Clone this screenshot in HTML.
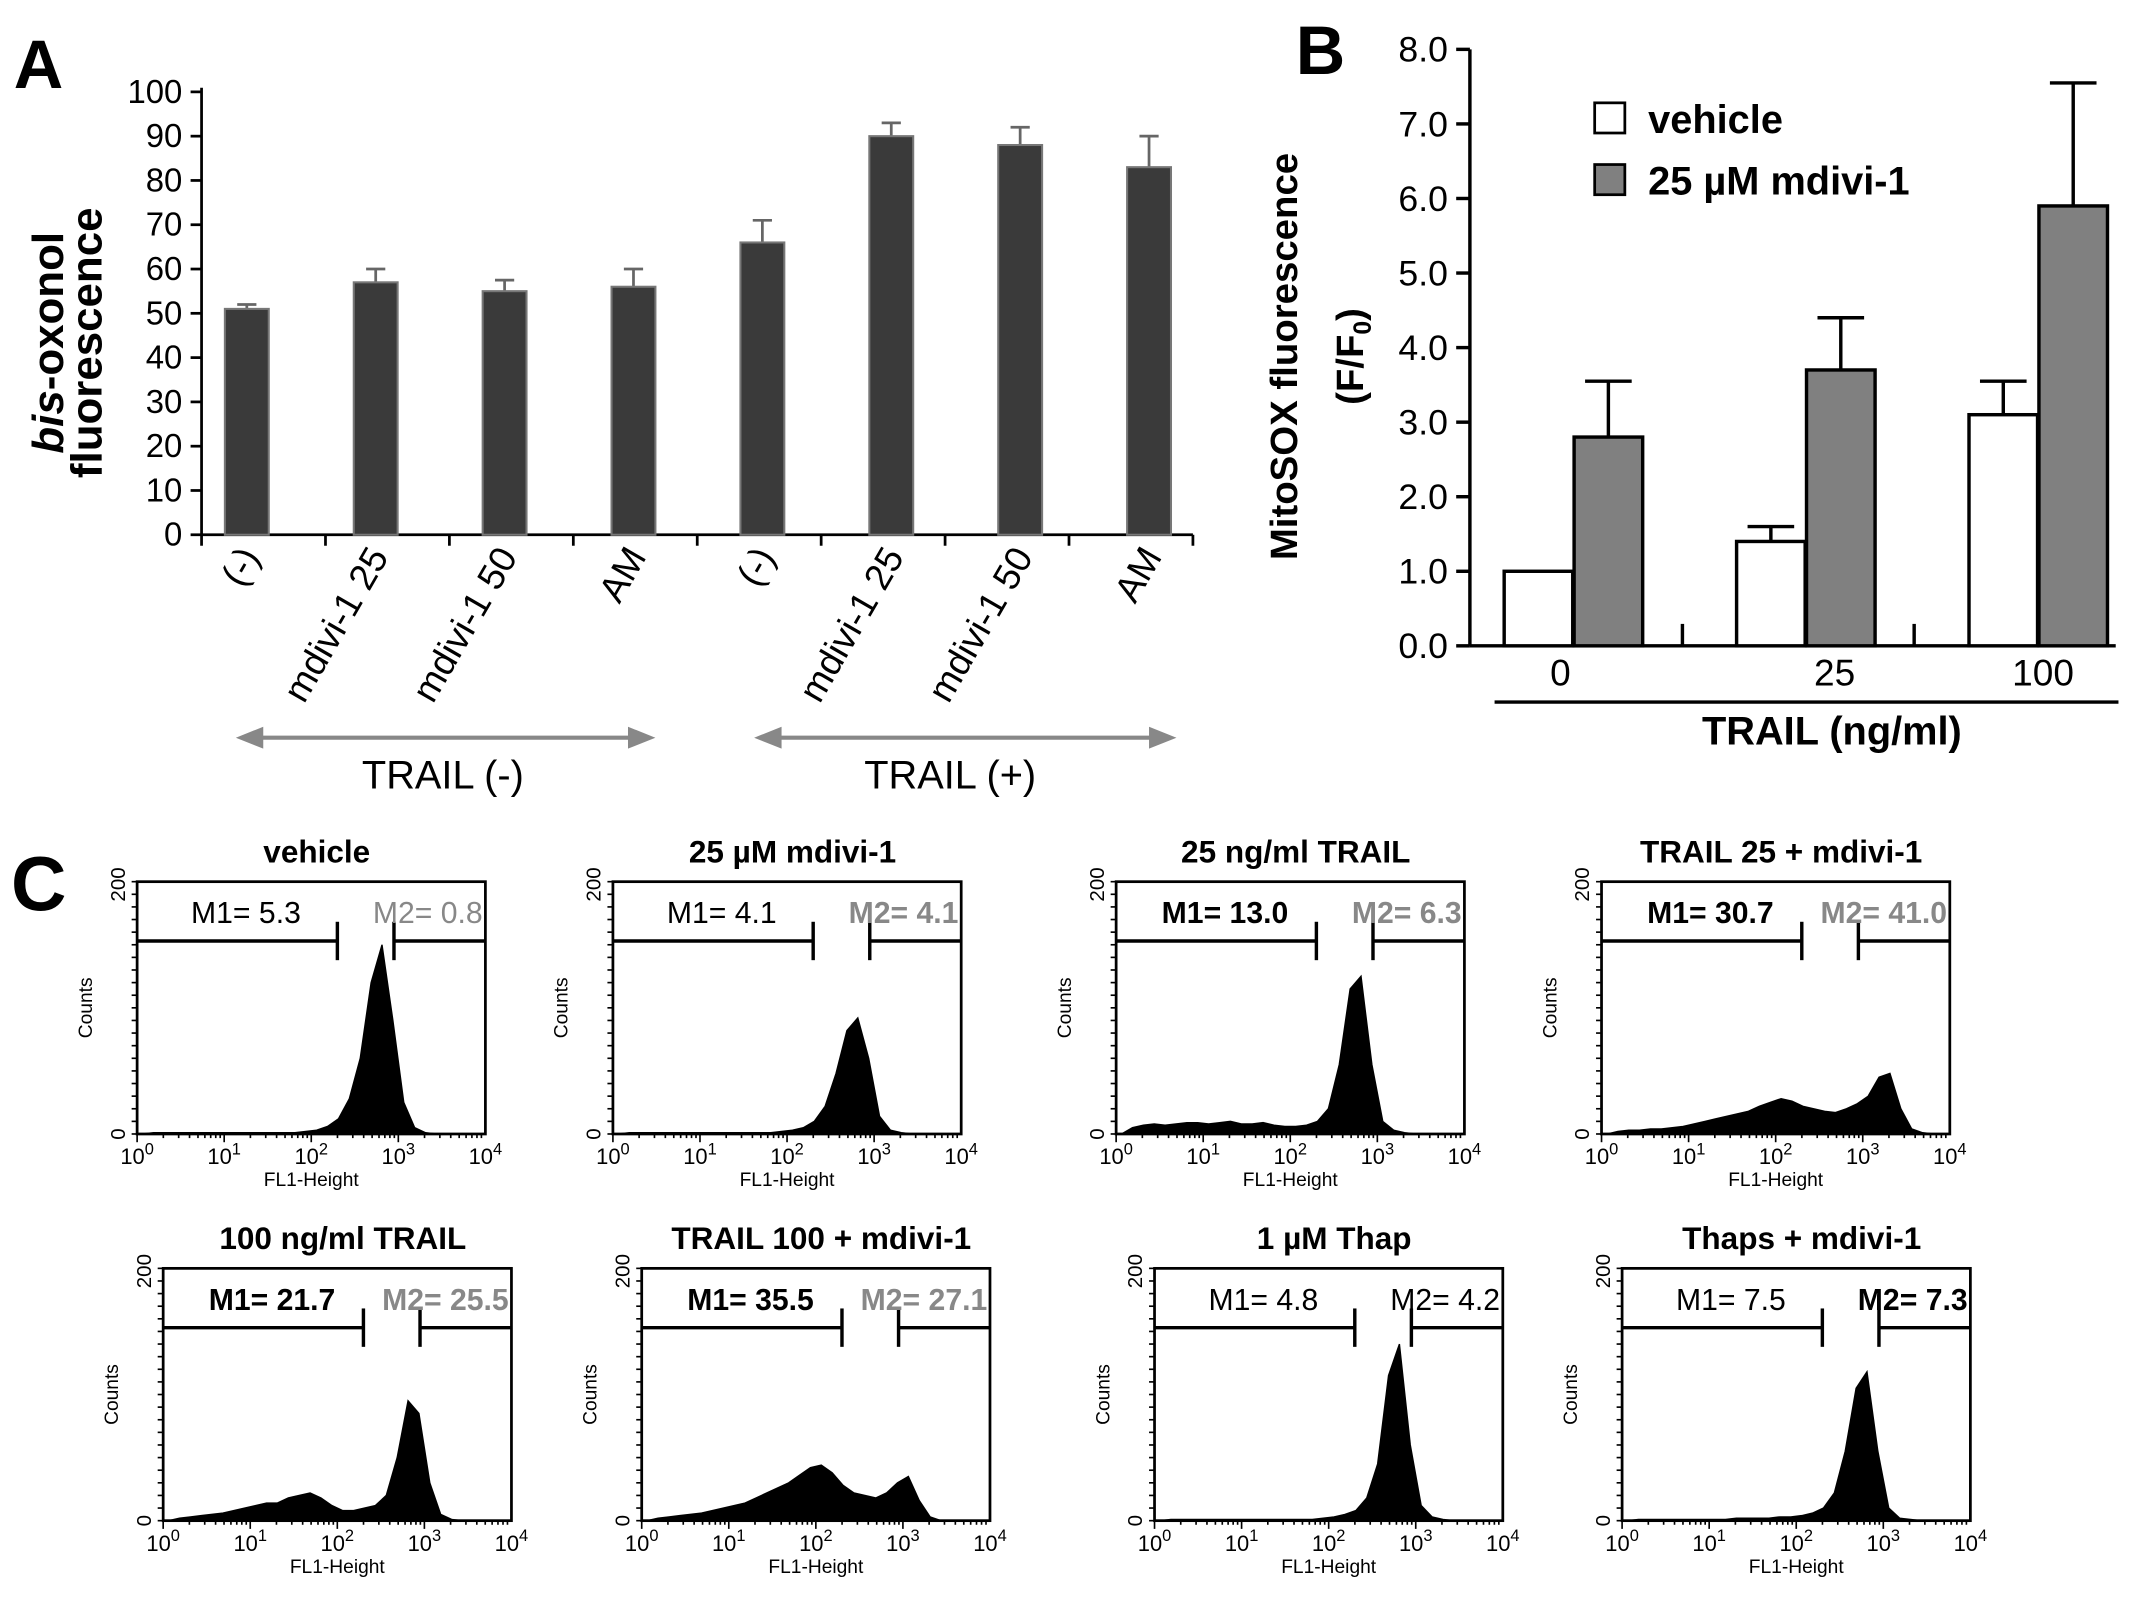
<!DOCTYPE html>
<html><head><meta charset="utf-8"><style>
html,body{margin:0;padding:0;background:#fff}
svg{display:block}
text{font-family:"Liberation Sans",Arial,sans-serif}
</style></head><body>
<svg id="fig" xmlns="http://www.w3.org/2000/svg" width="2150" height="1598" viewBox="0 0 1568 1165.4" preserveAspectRatio="none">
<g id="pa"></g>
<g id="pb"></g>
<g id="pc"></g>
</svg>
<script>
// Panel A data
const aCats=["(-)","mdivi-1 25","mdivi-1 50","AM","(-)","mdivi-1 25","mdivi-1 50","AM"];
const aVals=[51,57,55,56,66,90,88,83];
const aErr=[1,3,2.5,4,5,3,4,7];
const aTicks=[0,10,20,30,40,50,60,70,80,90,100];
// Panel B data
const bGroups=["0","25","100"];
const bVehicle=[1.0,1.4,3.1];
const bVehErr=[0,0.2,0.45];
const bMdivi=[2.8,3.7,5.9];
const bMdiviErr=[0.75,0.7,1.65];
const bTicks=[0,1,2,3,4,5,6,7,8];
// Panel C data (counts per log bin, 32 bins from 10^0 to 10^4)
const cTitles=["vehicle","25 µM mdivi-1","25 ng/ml TRAIL","TRAIL 25  + mdivi-1","100 ng/ml TRAIL","TRAIL 100  + mdivi-1","1 µM Thap","Thaps + mdivi-1"];
const cM1=["M1= 5.3","M1= 4.1","M1= 13.0","M1= 30.7","M1= 21.7","M1= 35.5","M1= 4.8","M1= 7.5"];
const cM2=["M2= 0.8","M2= 4.1","M2= 6.3","M2= 41.0","M2= 25.5","M2= 27.1","M2= 4.2","M2= 7.3"];
const cBold1=[0,0,1,1,1,1,0,0];
const cBold2=[0,1,1,1,1,1,0,1];
const cHist=[
[0,1,1,1,1,1,1,1,1,1,1,1,1,1,1,2,3,6,12,28,60,120,150,90,25,5,1,0,0,0,0,0],
[0,1,1,1,1,1,1,1,1,1,1,1,1,1,1,2,3,5,10,22,48,82,92,60,14,3,1,0,0,0,0,0],
[0,5,7,8,7,8,9,9,8,9,10,8,8,9,7,6,6,7,10,20,55,115,125,55,10,3,1,0,0,0,0,0],
[0,2,3,3,4,4,5,6,8,10,12,14,16,18,22,25,28,26,22,20,18,17,20,24,30,45,48,20,4,1,0,0],
[0,2,3,4,5,6,8,10,12,14,14,18,20,22,18,12,8,8,10,12,20,50,95,85,30,5,1,0,0,0,0,0],
[0,2,3,4,5,6,8,10,12,14,18,22,26,30,36,42,44,38,28,22,20,18,22,30,35,16,3,0,0,0,0,0],
[0,1,1,1,1,1,1,1,1,1,1,1,1,1,1,2,3,5,8,18,45,115,140,60,12,3,1,0,0,0,0,0],
[0,1,1,1,1,1,1,1,1,1,2,2,2,2,3,3,4,6,10,22,55,105,118,55,10,2,1,0,0,0,0,0]
];
const cBoxes=[[100,643],[447,643],[814,643],[1168,643],[119,925],[468,925],[842,925],[1183,925]];

const NS="http://www.w3.org/2000/svg";
function el(p,tag,at,txt){const e=document.createElementNS(NS,tag);for(const k in at)e.setAttribute(k,at[k]);if(txt!==undefined)e.textContent=txt;p.appendChild(e);return e;}

// ---------- Panel A ----------
(function(){
const g=document.getElementById('pa');
const x0=147,x1=870,yb=390,yt=67;
const y=v=>yb-(v/100)*(yb-yt);
const xc=i=>180+i*94;
let t=el(g,'text',{x:10,y:64,'font-size':50,'font-weight':'bold'},'A');

let yl=el(g,'text',{transform:'translate(46,250) rotate(-90)','text-anchor':'middle','font-size':32,'font-weight':'bold'});

el(yl,'tspan',{'font-style':'italic'},'bis');el(yl,'tspan',{},'-oxonol');
let yl2=el(g,'text',{transform:'translate(74,250) rotate(-90)','text-anchor':'middle','font-size':32,'font-weight':'bold'},'fluorescence');

el(g,'line',{x1:x0,y1:yt-3,x2:x0,y2:yb,stroke:'#000','stroke-width':2});
el(g,'line',{x1:x0,y1:yb,x2:x1,y2:yb,stroke:'#000','stroke-width':2});
aTicks.forEach(v=>{el(g,'line',{x1:x0-8,y1:y(v),x2:x0,y2:y(v),stroke:'#000','stroke-width':2});
 const tt=el(g,'text',{x:x0-14,y:y(v)+8,'text-anchor':'end','font-size':24},v);
 });
for(let i=0;i<=8;i++){const xx=x0+i*(x1-x0)/8;el(g,'line',{x1:xx,y1:yb,x2:xx,y2:yb+8,stroke:'#000','stroke-width':2});}
aVals.forEach((v,i)=>{const cx=xc(i);
 el(g,'line',{x1:cx,y1:y(v),x2:cx,y2:y(v+aErr[i]),stroke:'#666','stroke-width':2});
 el(g,'line',{x1:cx-7,y1:y(v+aErr[i]),x2:cx+7,y2:y(v+aErr[i]),stroke:'#666','stroke-width':2});
 const r=el(g,'rect',{x:cx-16,y:y(v),width:32,height:yb-y(v),fill:'#3a3a3a',stroke:'#777','stroke-width':1.5});
 
 const tl=el(g,'text',{transform:`translate(${cx+10},${yb+16}) rotate(-60)`,'text-anchor':'end','font-size':27},aCats[i]);
 });
[[172,478,323,'TRAIL (-)'],[550,858,693,'TRAIL (+)']].forEach((a,k)=>{
 el(g,'line',{x1:a[0]+12,y1:538,x2:a[1]-12,y2:538,stroke:'#888','stroke-width':3});
 el(g,'polygon',{points:`${a[0]},538 ${a[0]+20},530 ${a[0]+20},546`,fill:'#888'});
 el(g,'polygon',{points:`${a[1]},538 ${a[1]-20},530 ${a[1]-20},546`,fill:'#888'});
 const tl=el(g,'text',{x:a[2],y:575,'text-anchor':'middle','font-size':29},a[3]);
 });
})();

// ---------- Panel B ----------
(function(){
const g=document.getElementById('pb');
const x0=1072,x1=1543,yb=471,yt=36;
const y=v=>yb-(v/8)*(yb-yt);
let t=el(g,'text',{x:945,y:54,'font-size':50,'font-weight':'bold'},'B');

let a=el(g,'text',{transform:'translate(946,260) rotate(-90)','text-anchor':'middle','font-size':28,'font-weight':'bold'},'MitoSOX  fluorescence');

let b=el(g,'text',{transform:'translate(994,260) rotate(-90)','text-anchor':'middle','font-size':28,'font-weight':'bold'});

el(b,'tspan',{},'(F/F');el(b,'tspan',{'font-size':18,dy:6},'0');el(b,'tspan',{dy:-6},')');
el(g,'line',{x1:x0,y1:yt,x2:x0,y2:yb,stroke:'#000','stroke-width':2.5});
el(g,'line',{x1:x0,y1:yb,x2:x1,y2:yb,stroke:'#000','stroke-width':2.5});
bTicks.forEach(v=>{el(g,'line',{x1:x0-10,y1:y(v),x2:x0,y2:y(v),stroke:'#000','stroke-width':2.5});
 const tt=el(g,'text',{x:x0-16,y:y(v)+9,'text-anchor':'end','font-size':26},v.toFixed(1));
 });
const bw=50;
[1227,1396].forEach(xx=>el(g,'line',{x1:xx,y1:yb,x2:xx,y2:yb-16,stroke:'#000','stroke-width':2.5}));
const labX=[1138,1338,1490];
bGroups.forEach((lab,i)=>{const left=1097+i*169.5;
 [[bVehicle,bVehErr,'#fff',0],[bMdivi,bMdiviErr,'#808080',bw+1]].forEach((s,j)=>{
  const v=s[0][i],e=s[1][i],bx=left+s[3];
  if(e>0){el(g,'line',{x1:bx+bw/2,y1:y(v),x2:bx+bw/2,y2:y(v+e),stroke:'#000','stroke-width':2.5});
  el(g,'line',{x1:bx+bw/2-17,y1:y(v+e),x2:bx+bw/2+17,y2:y(v+e),stroke:'#000','stroke-width':2.5});}
  const r=el(g,'rect',{x:bx,y:y(v),width:bw,height:yb-y(v),fill:s[2],stroke:'#000','stroke-width':2.5});
  });
 const tl=el(g,'text',{x:labX[i],y:500,'text-anchor':'middle','font-size':27},lab);
 });
el(g,'line',{x1:1090,y1:512,x2:1545,y2:512,stroke:'#000','stroke-width':2.5});
let xt=el(g,'text',{x:1336,y:543,'text-anchor':'middle','font-size':29,'font-weight':'bold'},'TRAIL (ng/ml)');

const l1=el(g,'rect',{x:1163,y:75,width:22,height:22,fill:'#fff',stroke:'#000','stroke-width':2});

const l2=el(g,'rect',{x:1163,y:120,width:22,height:22,fill:'#808080',stroke:'#000','stroke-width':2});

let lt1=el(g,'text',{x:1202,y:97,'font-size':29,'font-weight':'bold'},'vehicle');

let lt2=el(g,'text',{x:1202,y:142,'font-size':29,'font-weight':'bold'},'25 µM mdivi-1');

})();

// ---------- Panel C ----------
(function(){
const g=document.getElementById('pc');
let t=el(g,'text',{x:8,y:664,'font-size':56,'font-weight':'bold'},'C');

const W=254,H=184;
cHist.forEach((hist,k)=>{
 const [bx,by]=cBoxes[k];
 const gg=el(g,'g',{});
 const X=l=>bx+l/4*W, Y=c=>by+H-c/200*H;
 let d=`M${X(0)},${Y(0)}`;
 hist.forEach((c,i)=>{d+=` L${X((i+0.5)*0.125)},${Y(c)}`;});
 d+=` L${X(4)},${Y(0)} Z`;
 const p=el(gg,'path',{d:d,fill:'#000',stroke:'#000','stroke-width':1});
 
 el(gg,'rect',{x:bx,y:by,width:W,height:H,fill:'none',stroke:'#000','stroke-width':2});
 for(let i=0;i<=20;i++){el(gg,'line',{x1:bx-4,y1:by+i*H/20,x2:bx,y2:by+i*H/20,stroke:'#000','stroke-width':1.2});}
 for(let dd=0;dd<4;dd++)for(let m=1;m<=9;m++){const xx=X(dd+Math.log10(m));el(gg,'line',{x1:xx,y1:by+H,x2:xx,y2:by+H+(m==1?6:3),stroke:'#000','stroke-width':1.2});}
 for(let dd=0;dd<=4;dd++){const tx=el(gg,'text',{x:X(dd),y:by+H+22,'text-anchor':'middle','font-size':16});
  
  el(tx,'tspan',{},'10');el(tx,'tspan',{dy:-7,'font-size':12},dd);}
 const fl=el(gg,'text',{x:bx+W/2,y:by+H+38,'text-anchor':'middle','font-size':14},'FL1-Height');
 
 const ct=el(gg,'text',{transform:`translate(${bx-33},${by+H/2}) rotate(-90)`,'text-anchor':'middle','font-size':14},'Counts');
 
 el(gg,'text',{transform:`translate(${bx-9},${by+H}) rotate(-90)`,'text-anchor':'middle','font-size':15},'0');
 el(gg,'text',{transform:`translate(${bx-9},${by+2}) rotate(-90)`,'text-anchor':'middle','font-size':15},'200');
 const ti=el(gg,'text',{x:bx+W/2+4,y:by-14,'text-anchor':'middle','font-size':23,'font-weight':'bold'},cTitles[k]);
 
 const my=Y(153), l1=2.3, l2=2.95;
 el(gg,'line',{x1:bx,y1:my,x2:X(l1),y2:my,stroke:'#000','stroke-width':2.5});
 el(gg,'line',{x1:X(l1),y1:my-14,x2:X(l1),y2:my+14,stroke:'#000','stroke-width':2.5});
 el(gg,'line',{x1:X(l2),y1:my,x2:bx+W,y2:my,stroke:'#000','stroke-width':2.5});
 el(gg,'line',{x1:X(l2),y1:my-14,x2:X(l2),y2:my+14,stroke:'#000','stroke-width':2.5});
 const m1=el(gg,'text',{x:X(1.25),y:my-13,'text-anchor':'middle','font-size':22,'font-weight':cBold1[k]?'bold':'normal',fill:'#000'},cM1[k]);
 
 const m2=el(gg,'text',{x:bx+W-2,y:my-13,'text-anchor':'end','font-size':22,'font-weight':cBold2[k]?'bold':'normal',fill:(k==6||k==7)?'#000':'#888'},cM2[k]);
 
});
})();
</script>
</body></html>
